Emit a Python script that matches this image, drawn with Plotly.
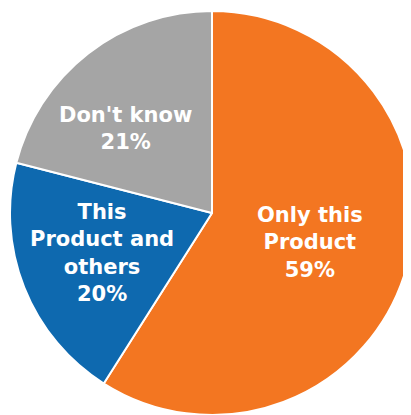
import plotly.graph_objects as go

labels = ["Only this<br>Product", "This<br>Product and<br>others", "Don't know"]
values = [59, 20, 21]
colors = ["#F37621", "#0E69AF", "#A5A5A5"]

# where each label sits (paper coords)
label_pos = [(0.743, 0.426), (0.228, 0.402), (0.287, 0.709)]

fig = go.Figure(go.Pie(
    labels=labels,
    values=values,
    sort=False,
    direction="clockwise",
    rotation=0,
    marker=dict(colors=colors, line=dict(color="white", width=2)),
    textinfo="none",
    hoverinfo="label+percent",
    showlegend=False,
))

for lab, val, (x, y) in zip(labels, values, label_pos):
    fig.add_annotation(
        x=x, y=y, xref="paper", yref="paper",
        text=f"{lab}<br>{val}%",
        showarrow=False,
        font=dict(family="DejaVu Sans", size=21, color="white", weight="bold"),
        xanchor="center", yanchor="middle",
    )

fig.update_layout(
    width=416, height=407,
    autosize=False,
    margin=dict(l=2, r=10, t=3, b=0),
    paper_bgcolor="white",
)

fig.write_html("out.html")
